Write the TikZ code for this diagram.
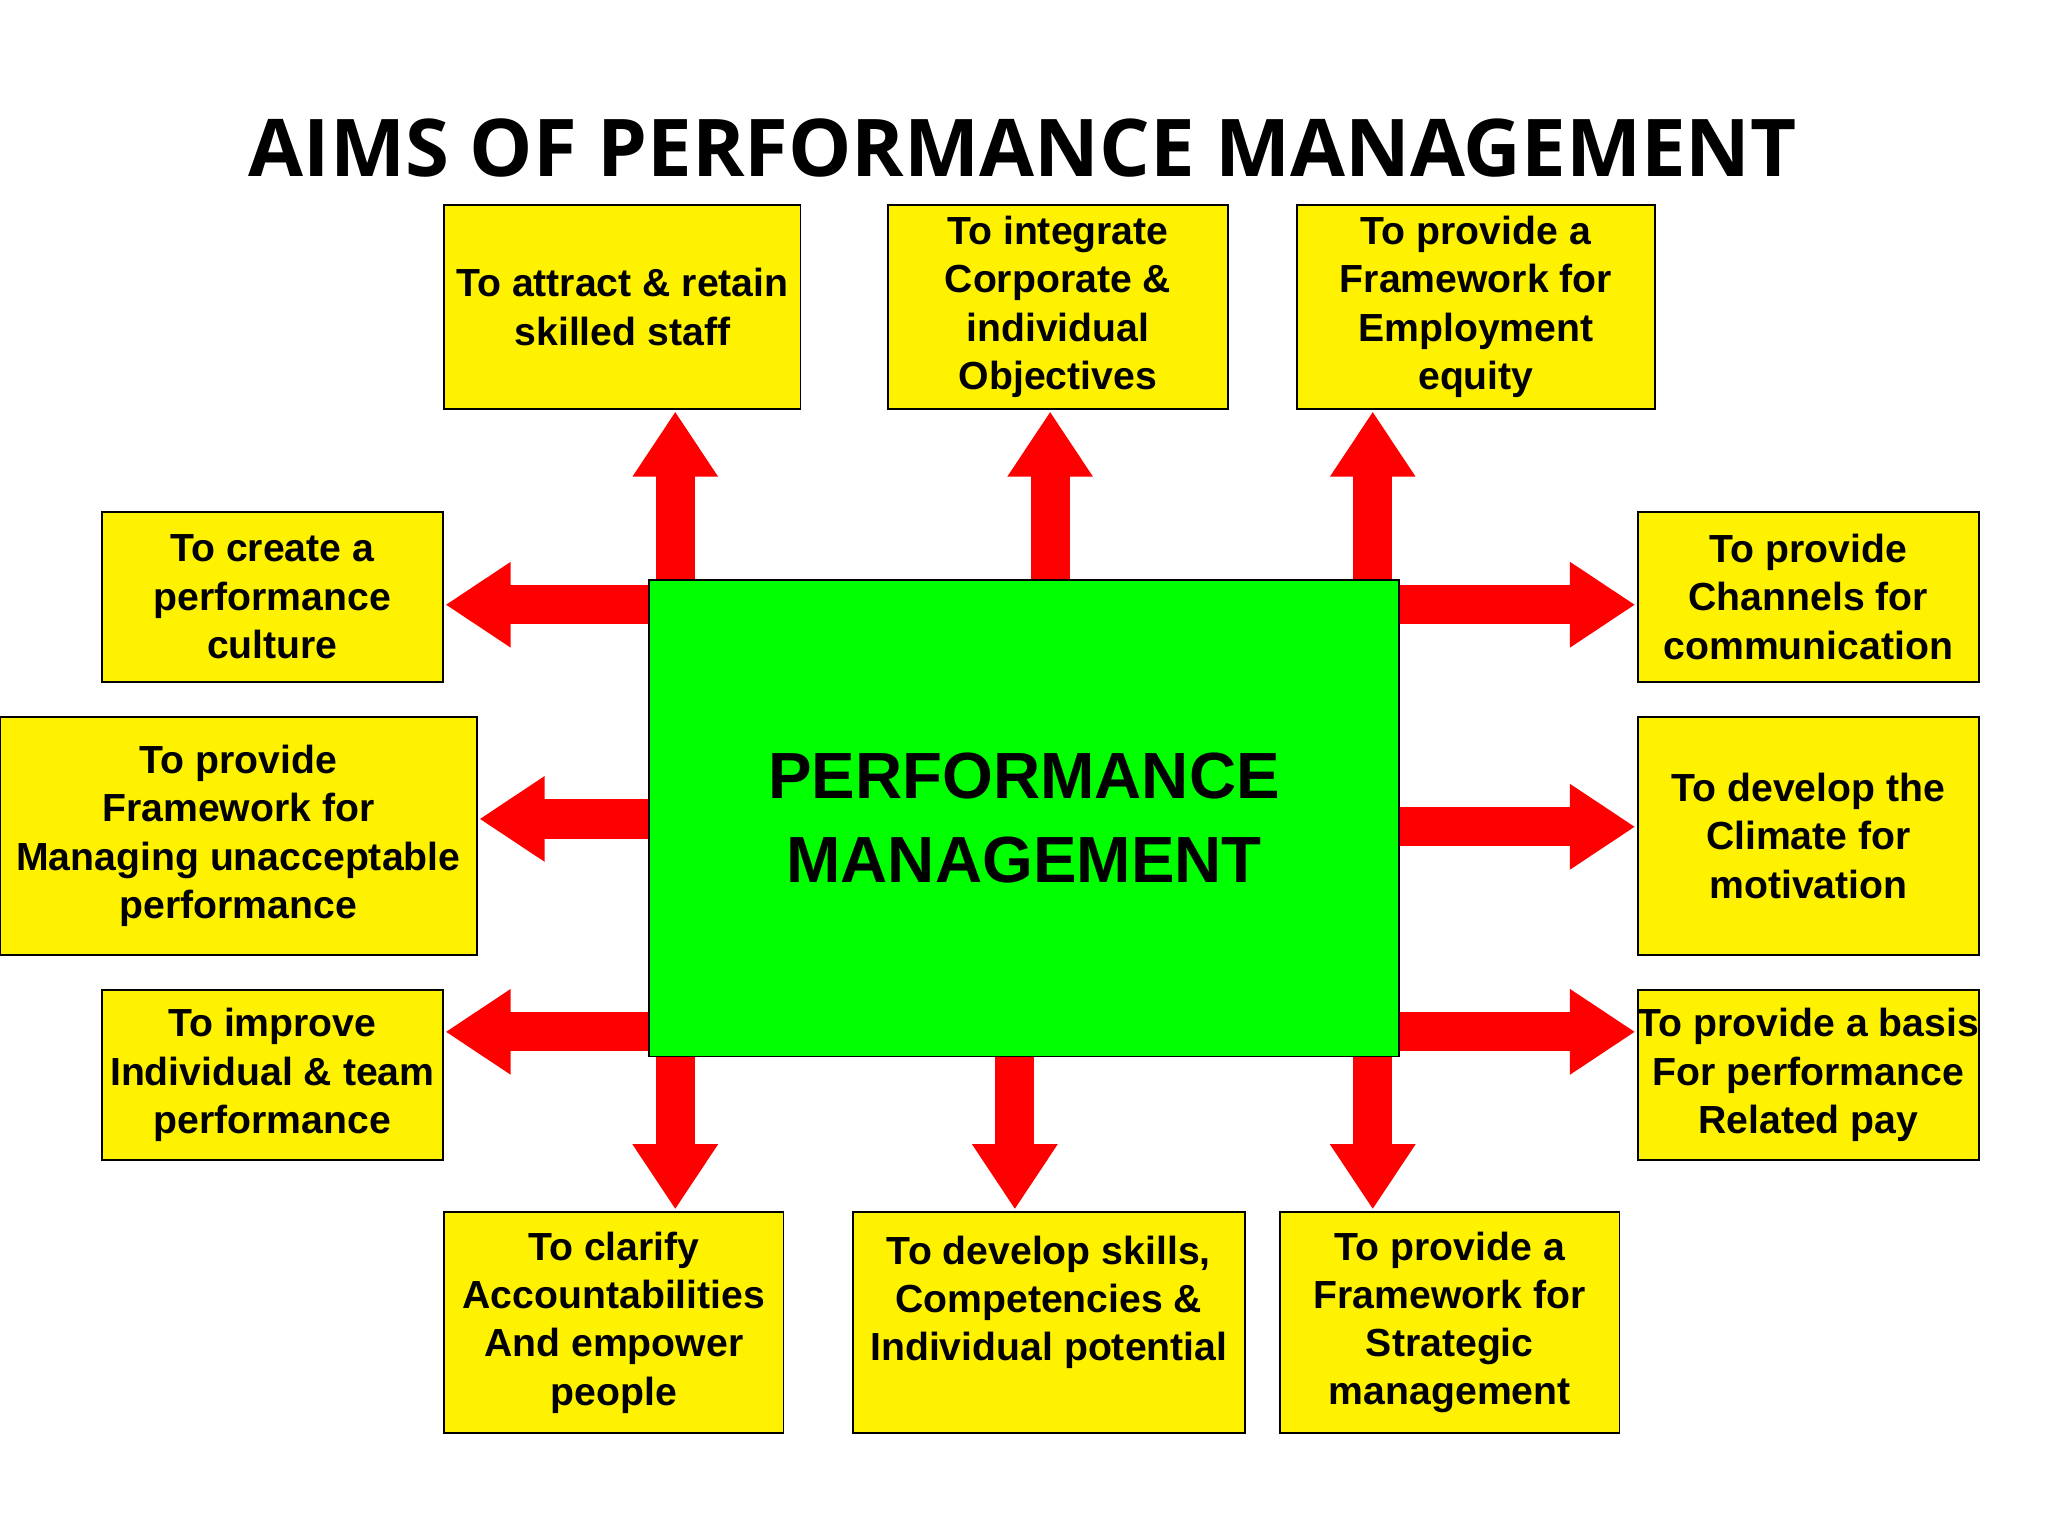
\documentclass[tikz,border=0pt]{standalone}
\usepackage{fontspec}
\setmainfont{Liberation Sans}
\newfontfamily\titlefont{Open Sans}
\usetikzlibrary{arrows.meta}
\tikzset{x=0.5pt,y=-0.5pt,
 aim/.style={draw=black,fill=yellow,line width=0.6pt,align=center,font=\bfseries\fontsize{15}{18.5}\selectfont,inner sep=0pt},
 fat/.style={draw=red,line width=15pt,-{Triangle[length=25pt,width=31pt]}}}
\newcommand\aimbox[6]{\node[aim,minimum width={(#4-#2)*0.5pt},minimum height={(#5-#3)*0.5pt}] (#1) at ({(#2+#4)/2},{(#3+#5)/2}) {#6};}
\begin{document}
\begin{tikzpicture}
\useasboundingbox (0,0) rectangle (1568,1176);
\node[font=\titlefont\bfseries\fontsize{30.5}{36}\selectfont] (title) at (783,113) {AIMS OF PERFORMANCE MANAGEMENT};
\node[draw=black,fill=green,line width=0.6pt,minimum width=287pt,minimum height=182.5pt,align=center,font=\bfseries\fontsize{25}{32}\selectfont] (pm) at (784,626.5) {PERFORMANCE\\MANAGEMENT};
\coordinate (u1) at (517,315); \coordinate (u2) at (804,315); \coordinate (u3) at (1051,315);
\coordinate (d1) at (517,926); \coordinate (d2) at (777,926); \coordinate (d3) at (1051,926);
\coordinate (w1) at (341,463); \coordinate (w2) at (367,627); \coordinate (w3) at (341,790);
\coordinate (e1) at (1252,463); \coordinate (e2) at (1252,633); \coordinate (e3) at (1252,790);
\foreach \c in {u1,u2,u3}{\draw[fat] (pm.north -| \c) -- (\c);}
\foreach \c in {d1,d2,d3}{\draw[fat] (pm.south -| \c) -- (\c);}
\foreach \c in {w1,w2,w3}{\draw[fat] (pm.west |- \c) -- (\c);}
\foreach \c in {e1,e2,e3}{\draw[fat] (pm.east |- \c) -- (\c);}
\node[draw=black,fill=green,line width=0.6pt,minimum width=287pt,minimum height=182.5pt,align=center,font=\bfseries\fontsize{25}{32}\selectfont] at (784,626.5) {PERFORMANCE\\MANAGEMENT};
\aimbox{t1}{340}{157}{613}{313}{To attract \& retain\\skilled staff}
\aimbox{t2}{680}{157}{940}{313}{To integrate\\Corporate \&\\individual\\Objectives}
\aimbox{t3}{993}{157}{1267}{313}{To provide a\\Framework for\\Employment\\equity}
\aimbox{l1}{78}{392}{339}{522}{To create a\\performance\\culture}
\aimbox{l2}{0}{549}{365}{731}{To provide\\Framework for\\Managing unacceptable\\performance}
\aimbox{l3}{78}{758}{339}{888}{To improve\\Individual \& team\\performance}
\aimbox{r1}{1254}{392}{1515}{522}{To provide\\Channels for\\communication}
\aimbox{r2}{1254}{549}{1515}{731}{To develop the\\Climate for\\motivation}
\aimbox{r3}{1254}{758}{1515}{888}{To provide a basis\\For performance\\Related pay}
\aimbox{b1}{340}{928}{600}{1097}{To clarify\\Accountabilities\\And empower\\people}
\aimbox{b2}{653}{928}{953}{1097}{To develop skills,\\Competencies \&\\Individual potential\\~}
\aimbox{b3}{980}{928}{1240}{1097}{To provide a\\Framework for\\Strategic\\management}
\end{tikzpicture}
\end{document}
